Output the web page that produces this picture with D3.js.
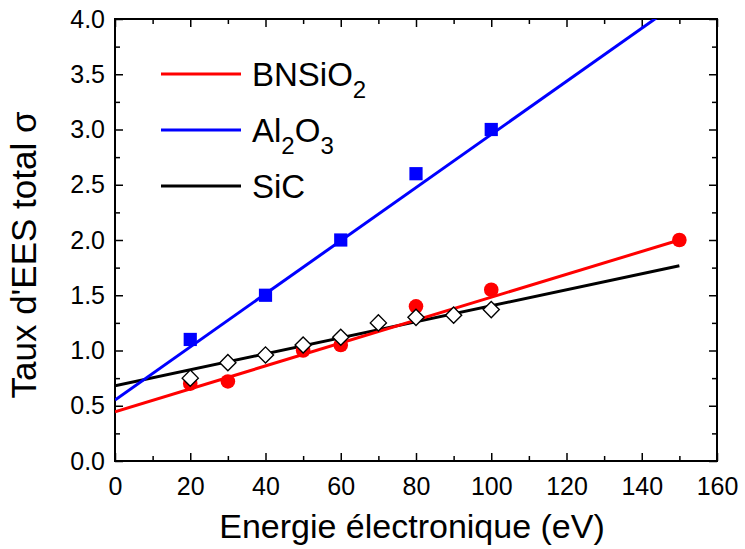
<!DOCTYPE html>
<head>
  <meta charset="utf-8">
  <script src="https://d3js.org/d3.v7.min.js"></script>
  <style>
    body { margin:0; background:#fff; }
    svg { font-family: "Liberation Sans", Arial, sans-serif; }
  </style>
</head>
<body>
  <div class="chart"></div>
  <script>
    // data
    const bnX = [20, 30, 50, 60, 80, 100, 150];
    const bnY = [0.70, 0.72, 1.0, 1.05, 1.40, 1.55, 2.0];
    const alX = [20, 40, 60, 80, 100];
    const alY = [1.1, 1.5, 2.0, 2.6, 3.0];
    const sicX = [20, 30, 40, 50, 60, 70, 80, 90, 100];
    const sicY = [0.75, 0.89, 0.96, 1.05, 1.12, 1.25, 1.30, 1.32, 1.37];

    // linear fits [intercept, slope], drawn from 0 to 150 eV
    const bnFit = [0.446, 0.01036];
    const alFit = [0.552, 0.02403];
    const sicFit = [0.681, 0.00724];
    const fitRange = [0, 150];

    const xTicks = [0, 20, 40, 60, 80, 100, 120, 140, 160];
    const xMinor = [10, 30, 50, 70, 90, 110, 130, 150];
    const yTicks = [0, 0.5, 1.0, 1.5, 2.0, 2.5, 3.0, 3.5, 4.0];
    const yMinor = [0.25, 0.75, 1.25, 1.75, 2.25, 2.75, 3.25, 3.75];

    const margin = {top: 19, right: 28, bottom: 88, left: 115};
    const W = 745, H = 549;
    const width = W - margin.left - margin.right;
    const height = H - margin.top - margin.bottom;

    const svg = d3.select('.chart').append('svg')
      .attr('width', W).attr('height', H);
    const g = svg.append('g')
      .attr('transform', `translate(${margin.left},${margin.top})`);

    const x = d3.scaleLinear().domain([0, 160]).range([0, width]);
    const y = d3.scaleLinear().domain([0, 4]).range([height, 0]);

    g.append('clipPath').attr('id', 'clip')
      .append('rect').attr('width', width).attr('height', height);

    function styleAxis(sel) {
      sel.select('.domain').remove();
      sel.selectAll('line').attr('stroke', '#000').attr('stroke-width', 1.5);
      sel.selectAll('text').attr('font-size', 25).attr('fill', '#000')
        .attr('font-family', '"Liberation Sans", Arial, sans-serif');
    }

    // major + minor ticks, all pointing inwards
    g.append('g').attr('transform', `translate(0,${height})`)
      .call(d3.axisBottom(x).tickValues(xTicks).tickSize(-8).tickPadding(16).tickFormat(d3.format('d')))
      .call(styleAxis);
    g.append('g').attr('transform', `translate(0,${height})`)
      .call(d3.axisBottom(x).tickValues(xMinor).tickSize(-5).tickFormat(''))
      .call(styleAxis);
    g.append('g')
      .call(d3.axisTop(x).tickValues(xTicks).tickSize(-8).tickFormat(''))
      .call(styleAxis);
    g.append('g')
      .call(d3.axisTop(x).tickValues(xMinor).tickSize(-5).tickFormat(''))
      .call(styleAxis);
    g.append('g')
      .call(d3.axisLeft(y).tickValues(yTicks).tickSize(-8).tickPadding(10).tickFormat(d3.format('.1f')))
      .call(styleAxis);
    g.append('g')
      .call(d3.axisLeft(y).tickValues(yMinor).tickSize(-5).tickFormat(''))
      .call(styleAxis);
    g.append('g').attr('transform', `translate(${width},0)`)
      .call(d3.axisRight(y).tickValues(yTicks).tickSize(-8).tickFormat(''))
      .call(styleAxis);
    g.append('g').attr('transform', `translate(${width},0)`)
      .call(d3.axisRight(y).tickValues(yMinor).tickSize(-5).tickFormat(''))
      .call(styleAxis);

    g.append('rect')
      .attr('width', width).attr('height', height)
      .attr('fill', 'none').attr('stroke', '#000').attr('stroke-width', 2);

    // fit lines
    const fits = [
      {fit: sicFit, color: '#000000'},
      {fit: bnFit, color: '#ff0000'},
      {fit: alFit, color: '#0000ff'}
    ];
    const line = d3.line().x(d => x(d[0])).y(d => y(d[1]));
    g.append('g').attr('clip-path', 'url(#clip)')
      .selectAll('path').data(fits).enter().append('path')
      .attr('d', d => line(fitRange.map(v => [v, d.fit[0] + d.fit[1] * v])))
      .attr('fill', 'none')
      .attr('stroke', d => d.color)
      .attr('stroke-width', 3);

    // markers
    g.append('g').selectAll('circle').data(bnX).enter().append('circle')
      .attr('cx', d => x(d)).attr('cy', (d, i) => y(bnY[i]))
      .attr('r', 7.3).attr('fill', '#ff0000');

    g.append('g').selectAll('rect').data(alX).enter().append('rect')
      .attr('x', d => x(d) - 6.6).attr('y', (d, i) => y(alY[i]) - 6.6)
      .attr('width', 13.2).attr('height', 13.2).attr('fill', '#0000ff');

    const diamond = d3.symbol().type(d3.symbolDiamond2).size(165);
    g.append('g').selectAll('path').data(sicX).enter().append('path')
      .attr('transform', (d, i) => `translate(${x(d)},${y(sicY[i])})`)
      .attr('d', diamond)
      .attr('fill', '#fff').attr('stroke', '#000').attr('stroke-width', 1.4);

    // legend
    const legend = [
      {name: 'BNSiO', sub: '2', color: '#ff0000'},
      {name: 'Al', sub: '2', rest: 'O', sub2: '3', color: '#0000ff'},
      {name: 'SiC', color: '#000000'}
    ];
    const leg = svg.append('g');
    legend.forEach((d, i) => {
      const ly = 74 + i * 56;
      leg.append('line').attr('x1', 161).attr('x2', 241)
        .attr('y1', ly).attr('y2', ly)
        .attr('stroke', d.color).attr('stroke-width', 3);
      const t = leg.append('text').attr('x', 252).attr('y', ly + 12)
        .attr('font-size', 33).attr('fill', '#000');
      t.append('tspan').text(d.name);
      if (d.sub) t.append('tspan').attr('font-size', 24).attr('dy', 12).text(d.sub);
      if (d.rest) t.append('tspan').attr('font-size', 33).attr('dy', -12).text(d.rest);
      if (d.sub2) t.append('tspan').attr('font-size', 24).attr('dy', 12).text(d.sub2);
    });

    // axis titles
    svg.append('text')
      .attr('x', 412).attr('y', 538)
      .attr('text-anchor', 'middle').attr('font-size', 34)
      .text('Energie électronique (eV)');
    svg.append('text')
      .attr('transform', 'translate(36,255) rotate(-90)')
      .attr('text-anchor', 'middle').attr('font-size', 35)
      .text('Taux d\'EES total σ');
  </script>
</body>
